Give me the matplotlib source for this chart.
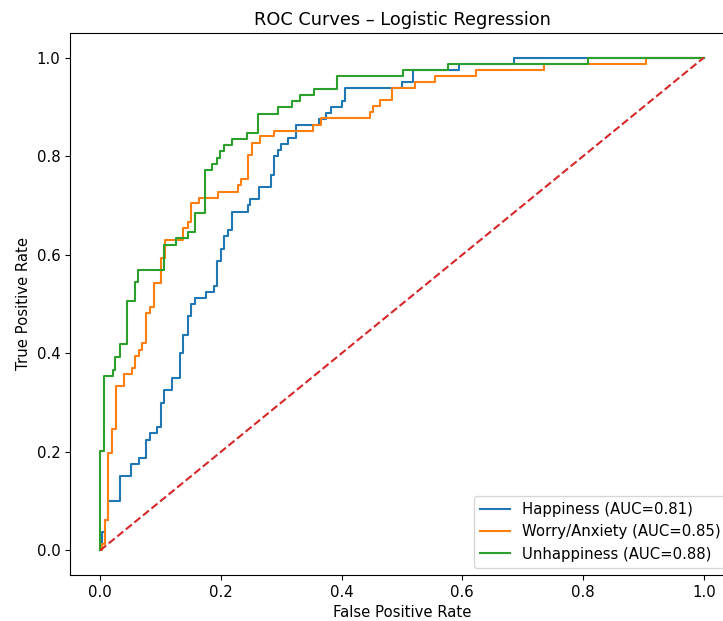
import matplotlib
matplotlib.use("Agg")
import matplotlib.pyplot as plt

# ROC corner points (fpr, tpr)
happy_fpr = [0, 0.003, 0.003, 0.008, 0.008, 0.0137, 0.0137, 0.033, 0.033, 0.051, 0.051,
             0.065, 0.065, 0.076, 0.076, 0.082, 0.082, 0.094, 0.094, 0.101, 0.101, 0.105,
             0.105, 0.119, 0.119, 0.132, 0.132, 0.138, 0.138, 0.145, 0.145, 0.150, 0.150,
             0.157, 0.157, 0.175, 0.175, 0.188, 0.188, 0.193, 0.193, 0.200, 0.200, 0.205,
             0.205, 0.212, 0.212, 0.219, 0.219, 0.245, 0.245, 0.249, 0.249, 0.263, 0.263,
             0.283, 0.283, 0.288, 0.288, 0.294, 0.294, 0.299, 0.299, 0.311, 0.311, 0.325,
             0.325, 0.362, 0.362, 0.374, 0.374, 0.382, 0.382, 0.400, 0.400, 0.405, 0.405,
             0.500, 0.500, 0.518, 0.518, 0.594, 0.594, 0.686, 0.686, 1.0]
happy_tpr = [0, 0, 0.0375, 0.0375, 0.0625, 0.0625, 0.1, 0.1, 0.15, 0.15, 0.175,
             0.175, 0.1875, 0.1875, 0.225, 0.225, 0.2375, 0.2375, 0.25, 0.25, 0.3, 0.3,
             0.325, 0.325, 0.35, 0.35, 0.4, 0.4, 0.4375, 0.4375, 0.475, 0.475, 0.5,
             0.5, 0.5125, 0.5125, 0.525, 0.525, 0.5375, 0.5375, 0.5875, 0.5875, 0.6125, 0.6125,
             0.6375, 0.6375, 0.65, 0.65, 0.6875, 0.6875, 0.7, 0.7, 0.7125, 0.7125, 0.7375,
             0.7375, 0.7625, 0.7625, 0.8, 0.8, 0.8125, 0.8125, 0.825, 0.825, 0.8375, 0.8375,
             0.8625, 0.8625, 0.875, 0.875, 0.8875, 0.8875, 0.9, 0.9, 0.9125, 0.9125, 0.9375,
             0.9375, 0.95, 0.95, 0.975, 0.975, 0.9875, 0.9875, 1.0, 1.0]

worry_fpr = [0, 0.003, 0.003, 0.008, 0.008, 0.0135, 0.0135, 0.020, 0.020, 0.026, 0.026,
             0.039, 0.039, 0.052, 0.052, 0.057, 0.057, 0.064, 0.064, 0.069, 0.069, 0.076,
             0.076, 0.082, 0.082, 0.089, 0.089, 0.101, 0.101, 0.107, 0.107, 0.138, 0.138,
             0.145, 0.145, 0.150, 0.150, 0.163, 0.163, 0.195, 0.195, 0.229, 0.229, 0.233,
             0.233, 0.245, 0.245, 0.252, 0.252, 0.265, 0.265, 0.288, 0.288, 0.353, 0.353,
             0.366, 0.366, 0.447, 0.447, 0.452, 0.452, 0.464, 0.464, 0.484, 0.484, 0.522,
             0.522, 0.555, 0.555, 0.623, 0.623, 0.736, 0.736, 0.904, 0.904, 1.0]
worry_tpr = [0, 0, 0.0123, 0.0123, 0.0617, 0.0617, 0.1975, 0.1975, 0.247, 0.247, 0.333,
             0.333, 0.358, 0.358, 0.370, 0.370, 0.395, 0.395, 0.407, 0.407, 0.420, 0.420,
             0.481, 0.481, 0.494, 0.494, 0.543, 0.543, 0.593, 0.593, 0.630, 0.630, 0.654,
             0.654, 0.667, 0.667, 0.704, 0.704, 0.716, 0.716, 0.728, 0.728, 0.741, 0.741,
             0.753, 0.753, 0.802, 0.802, 0.827, 0.827, 0.840, 0.840, 0.852, 0.852, 0.864,
             0.864, 0.877, 0.877, 0.889, 0.889, 0.901, 0.901, 0.914, 0.914, 0.938, 0.938,
             0.951, 0.951, 0.963, 0.963, 0.975, 0.975, 0.988, 0.988, 1.0, 1.0]

unhappy_fpr = [0, 0, 0.007, 0.007, 0.021, 0.021, 0.025, 0.025, 0.033, 0.033, 0.045,
               0.045, 0.057, 0.057, 0.062, 0.062, 0.106, 0.106, 0.126, 0.126, 0.145,
               0.145, 0.157, 0.157, 0.174, 0.174, 0.186, 0.186, 0.193, 0.193, 0.199,
               0.199, 0.205, 0.205, 0.219, 0.219, 0.243, 0.243, 0.261, 0.261, 0.294,
               0.294, 0.318, 0.318, 0.331, 0.331, 0.355, 0.355, 0.392, 0.392, 0.502,
               0.502, 0.577, 0.577, 0.808, 0.808, 1.0]
unhappy_tpr = [0, 0.2025, 0.2025, 0.354, 0.354, 0.367, 0.367, 0.392, 0.392, 0.418, 0.418,
               0.506, 0.506, 0.544, 0.544, 0.570, 0.570, 0.620, 0.620, 0.633, 0.633,
               0.646, 0.646, 0.684, 0.684, 0.772, 0.772, 0.785, 0.785, 0.797, 0.797,
               0.810, 0.810, 0.823, 0.823, 0.835, 0.835, 0.848, 0.848, 0.886, 0.886,
               0.899, 0.899, 0.911, 0.911, 0.924, 0.924, 0.937, 0.937, 0.962, 0.962,
               0.975, 0.975, 0.987, 0.987, 1.0, 1.0]

labels = ["Happiness", "Worry/Anxiety", "Unhappiness"]
aucs = [0.81, 0.85, 0.88]

# text in the reference is a little bigger than the default
plt.rcParams["font.size"] = 10.7
plt.rcParams["axes.titlesize"] = 12.8

fig = plt.figure(figsize=(7.23, 6.21), dpi=100)
# axes runs past the right edge, like the cropped reference
ax = fig.add_axes([70 / 723, 46 / 621, 664 / 723, 542 / 621])

curves = [(happy_fpr, happy_tpr), (worry_fpr, worry_tpr), (unhappy_fpr, unhappy_tpr)]
for (f, t), name, a in zip(curves, labels, aucs):
    ax.plot(f, t, label=f"{name} (AUC={a:.2f})")

ax.plot([0, 1], [0, 1], "--", color="#d62728")
ax.set_xlabel("False Positive Rate")
ax.set_ylabel("True Positive Rate")
ax.set_title("ROC Curves – Logistic Regression")
ax.legend(loc="lower right")

fig.savefig("out.png", dpi=100)
